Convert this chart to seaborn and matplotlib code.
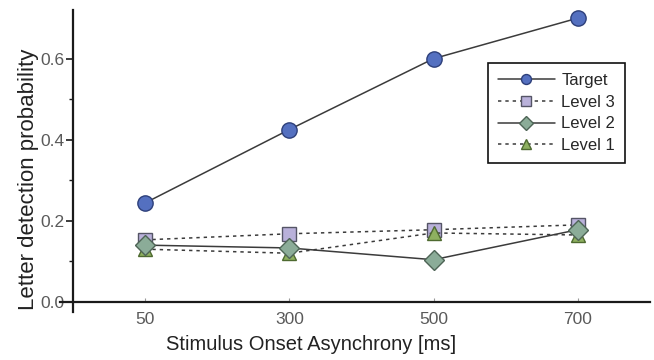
import matplotlib
matplotlib.use("Agg")
import matplotlib.pyplot as plt
import seaborn as sns
import pandas as pd

soa = ["50", "300", "500", "700"]
target = [0.244, 0.425, 0.600, 0.700]
level3 = [0.153, 0.168, 0.178, 0.190]
level2 = [0.140, 0.133, 0.104, 0.178]
level1 = [0.130, 0.120, 0.170, 0.165]
series_names = ["Target", "Level 3", "Level 2", "Level 1"]
yticks = [0.0, 0.2, 0.4, 0.6]
yminor = [0.1, 0.3, 0.5]

sns.set_theme(style="white")
plt.rcParams['font.family'] = ['Liberation Sans', 'DejaVu Sans']

styles = {
    "Target": dict(marker="o", color="#3b3b3b", ls="-", mfc="#5470c0", mec="#2d3f7a", ms=11),
    "Level 3": dict(marker="s", color="#3b3b3b", ls=(0, (2.2, 2.6)), mfc="#b9b1da", mec="#555566", ms=10.5),
    "Level 2": dict(marker="D", color="#3b3b3b", ls="-", mfc="#8bac98", mec="#4e6456", ms=10.5),
    "Level 1": dict(marker="^", color="#3b3b3b", ls=(0, (2.2, 2.6)), mfc="#8eb060", mec="#4e6a30", ms=10.5),
}
values = [target, level3, level2, level1]

fig = plt.figure(figsize=(6.54, 3.6), dpi=100)
ax = fig.add_axes([0.0917, 0.1333, 0.902, 0.8389])

order = [1, 3, 2, 0]  # draw level lines first, target on top
for i in order:
    name = series_names[i]
    st = styles[name]
    df = pd.DataFrame({"soa": soa, "p": values[i]})
    sns.lineplot(data=df, x="soa", y="p", ax=ax, sort=False,
                 color=st["color"], linestyle=st["ls"], linewidth=1.1,
                 marker=st["marker"], markersize=st["ms"],
                 markerfacecolor=st["mfc"], markeredgecolor=st["mec"],
                 markeredgewidth=1.0, label=name, zorder=3 + (i == 0))

ax.set_xlim(-0.59, 3.5)
ax.set_ylim(-0.025, 0.72)
ax.spines["left"].set_position(("data", -0.5))
ax.spines["bottom"].set_position(("data", 0))
for s in ["top", "right"]:
    ax.spines[s].set_visible(False)
for s in ["left", "bottom"]:
    ax.spines[s].set_color("#1a1a1a")
    ax.spines[s].set_linewidth(1.6)

ax.set_yticks(yticks)
ax.set_yticklabels([f"{v:.1f}" for v in yticks])
ax.set_yticks(yminor, minor=True)
ax.tick_params(axis="y", which="major", direction="out", length=5, width=1.2,
               color="#1a1a1a", labelsize=12.5, labelcolor="#5a5a5a", pad=1, left=True)
ax.tick_params(axis="y", which="minor", direction="out", length=3, width=1.0,
               color="#1a1a1a", left=True)
ax.tick_params(axis="x", direction="in", length=3, width=0.8, color="#999999",
               labelsize=12.5, labelcolor="#5a5a5a", pad=7, bottom=True)

ax.set_xlabel("Stimulus Onset Asynchrony [ms]", fontsize=14.5, color="#222222")
ax.set_ylabel("Letter detection probability", fontsize=16, color="#222222")
ax.xaxis.set_label_coords(0.425, -0.076)
ax.yaxis.set_label_coords(-0.036, 0.44)

h, l = ax.get_legend_handles_labels()
lab_to_h = dict(zip(l, h))
leg = ax.legend([lab_to_h[n] for n in series_names], series_names,
                loc="upper right", bbox_to_anchor=(0.958, 0.824),
                fontsize=12, frameon=True, fancybox=False, framealpha=1,
                edgecolor="#111111", handlelength=3.4, handletextpad=0.4,
                borderpad=0.6, labelspacing=0.4, markerscale=0.65,
                borderaxespad=0)
leg.get_frame().set_linewidth(1.2)

fig.savefig("out.png", dpi=100)
